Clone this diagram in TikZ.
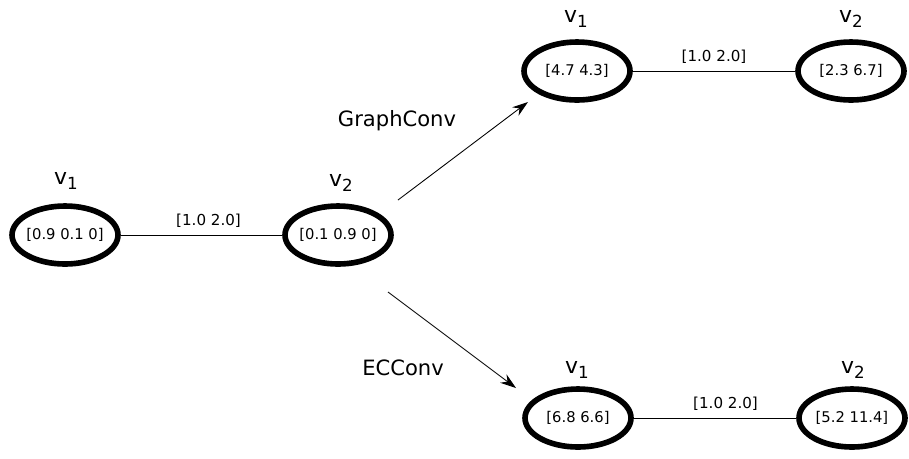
\documentclass[tikz,border=0pt]{standalone}
\usepackage{fontspec}
\setmainfont{DejaVu Sans}
\usetikzlibrary{shapes.geometric,arrows.meta}
\newcommand{\vlab}[1]{v\raisebox{-0.45ex}{\fontsize{9.5}{10}\selectfont #1}}
\tikzset{
	vert/.style={ellipse, draw, line width=3.2pt, minimum width=2.12cm, minimum height=1.16cm, inner xsep=-8pt, inner ysep=0pt, font=\fontsize{8.4}{10}\selectfont},
	vname/.style={font=\fontsize{12.5}{14}\selectfont},
	opname/.style={font=\fontsize{12}{14}\selectfont},
	elab/.style={font=\fontsize{8.6}{10}\selectfont, above, inner sep=4pt}
}
\begin{document}
\begin{tikzpicture}[x=0.02cm, y=-0.02cm]
		\useasboundingbox (0, 0) rectangle (909, 458);
		% input graph
		\node[vert] (a1) at (65, 235) {[0.9 0.1 0]};
		\node[vert] (a2) at (338, 235) {[0.1 0.9 0]};
		\node[vname] (n_a1) at (66, 181) {\vlab{1}};
		\node[vname] (n_a2) at (341, 183) {\vlab{2}};
		\draw[line width=0.5pt] (a1) -- (a2) node [elab, midway, xshift=4] {[1.0 2.0]};
		% GraphConv result
		\node[vert] (b1) at (577, 71) {[4.7 4.3]};
		\node[vert] (b2) at (851, 71) {[2.3 6.7]};
		\node[vname] (n_b1) at (576, 19) {\vlab{1}};
		\node[vname] (n_b2) at (851, 19) {\vlab{2}};
		\draw[line width=0.5pt] (b1) -- (b2) node [elab, midway] {[1.0 2.0]};
		% ECConv result
		\node[vert] (c1) at (578, 418) {[6.8 6.6]};
		\node[vert] (c2) at (852, 418) {[5.2 11.4]};
		\node[vname] (n_c1) at (577, 370) {\vlab{1}};
		\node[vname] (n_c2) at (853, 370) {\vlab{2}};
		\draw[line width=0.5pt] (c1) -- (c2) node [elab, midway, xshift=6] {[1.0 2.0]};
		% operations
		\coordinate (g0) at (398, 200);
		\coordinate (g1) at (528, 102);
		\coordinate (e0) at (388, 292);
		\coordinate (e1) at (516, 388);
		\node[opname] (gc) at (397, 121) {GraphConv};
		\node[opname] (ec) at (403, 368) {ECConv};
		\draw[line width=0.5pt, -{Stealth[length=9pt, width=6pt, inset=3pt]}] (g0) -- (g1);
		\draw[line width=0.5pt, -{Stealth[length=9pt, width=6pt, inset=3pt]}] (e0) -- (e1);
	\end{tikzpicture}
\end{document}
